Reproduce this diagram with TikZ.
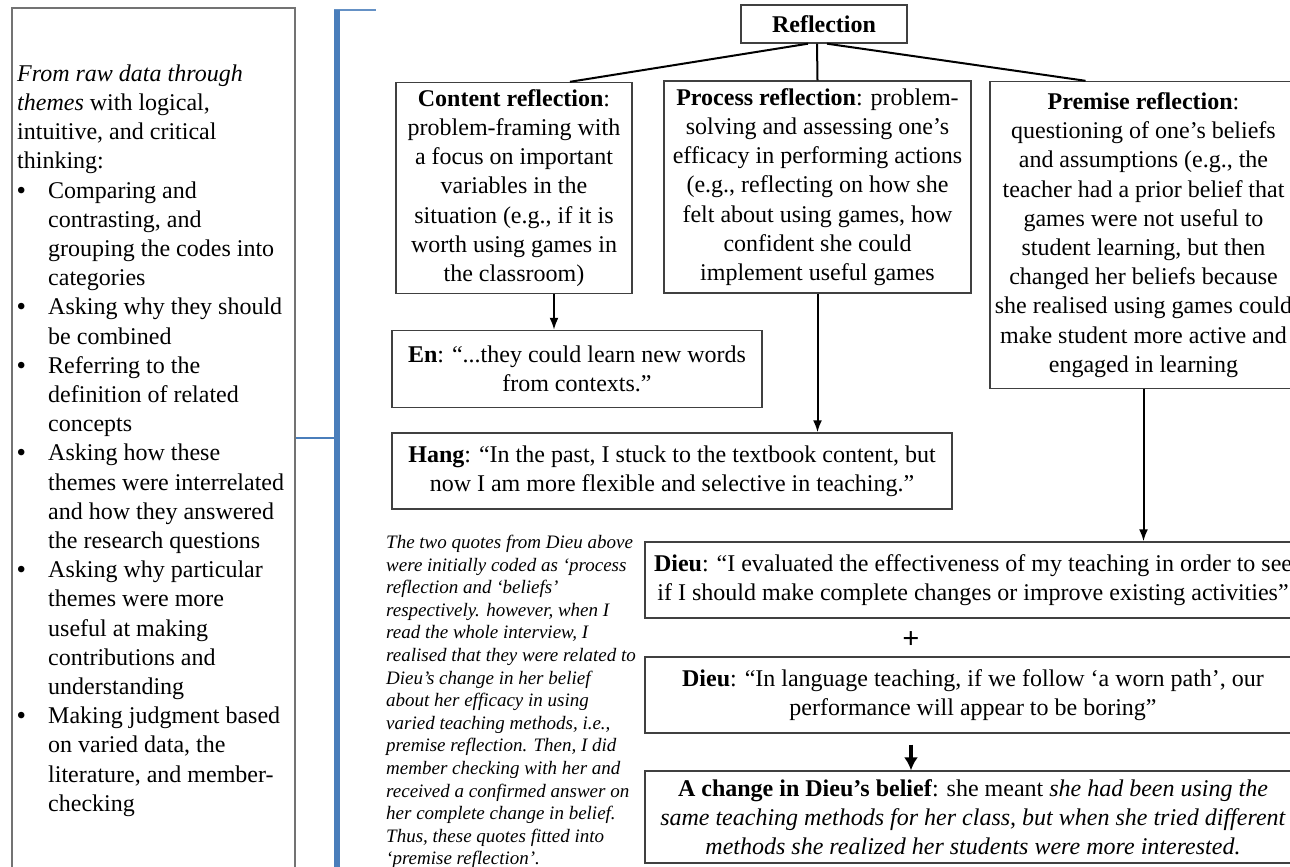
\documentclass[tikz,border=0pt]{standalone}
\usepackage{fontspec}
\setmainfont{Liberation Serif}
\usetikzlibrary{arrows.meta}
\definecolor{bracketblue}{RGB}{74,126,187}
\begin{document}
\begin{tikzpicture}[x=1pt,y=-1pt,
  box/.style={draw=black!75, line width=1.4pt, inner sep=0pt, align=center,
    font=\fontsize{24}{29.2}\selectfont},
  link/.style={draw=black, line width=2pt},
  arr/.style={link, -{Latex[length=12pt,width=9pt]}},
  bigarr/.style={draw=black, line width=3.2pt, -{Latex[length=13pt,width=14pt]}},
]
\useasboundingbox (0,0) rectangle (1290,867);
\clip (0,0) rectangle (1290,867);
\fill[white] (0,0) rectangle (1290,867);

% analysis procedure panel
\node[draw=black!55, line width=1.4pt, minimum width=283, minimum height=880, inner sep=0pt]
  (method) at (153.5,448) {};
\node[anchor=north west, inner sep=0pt, align=left, font=\fontsize{24}{29.2}\selectfont]
  (methodtext) at (17,64.5) {%
  \textit{From raw data through}\\
  \textit{themes} with logical,\\
  intuitive, and critical\\
  thinking:\\
  \makebox[31pt][l]{\hspace{0pt}\textbf{•}}Comparing and\\
  \hspace*{31pt}contrasting, and\\
  \hspace*{31pt}grouping the codes into\\
  \hspace*{31pt}categories\\
  \makebox[31pt][l]{\hspace{0pt}\textbf{•}}Asking why they should\\
  \hspace*{31pt}be combined\\
  \makebox[31pt][l]{\hspace{0pt}\textbf{•}}Referring to the\\
  \hspace*{31pt}definition of related\\
  \hspace*{31pt}concepts\\
  \makebox[31pt][l]{\hspace{0pt}\textbf{•}}Asking how these\\
  \hspace*{31pt}themes were interrelated\\
  \hspace*{31pt}and how they answered\\
  \hspace*{31pt}the research questions\\
  \makebox[31pt][l]{\hspace{0pt}\textbf{•}}Asking why particular\\
  \hspace*{31pt}themes were more\\
  \hspace*{31pt}useful at making\\
  \hspace*{31pt}contributions and\\
  \hspace*{31pt}understanding\\
  \makebox[31pt][l]{\hspace{0pt}\textbf{•}}Making judgment based\\
  \hspace*{31pt}on varied data, the\\
  \hspace*{31pt}literature, and member-\\
  \hspace*{31pt}checking};

% blue bracket joining the panel to the reflection chart
\coordinate (brktop) at (337,10);
\coordinate (brkmid) at (337,438);
\draw[bracketblue!85, line width=2.5pt] ([xshift=-3pt]brktop) -- (376,10);
\draw[bracketblue, line width=6pt] (brktop) -- (337,880);
\draw[bracketblue, line width=2pt] (brkmid -| method.east) -- (brkmid);

% reflection chart
\node[box, minimum width=166, minimum height=38] (refl) at (824,24) {\textbf{Reflection}};

\node[box, minimum width=236, minimum height=211] (content) at (514,188)
  {\textbf{Content reflection}:\\ problem-framing with\\ a focus on important\\
   variables in the\\ situation (e.g., if it is\\ worth using games in\\ the classroom)};

\node[box, minimum width=307, minimum height=212] (process) at (817.5,187)
  {\textbf{Process reflection}: problem-\\ solving and assessing one’s\\
   efficacy in performing actions\\ (e.g., reflecting on how she\\
   felt about using games, how\\ confident she could\\ implement useful games};

\node[box, minimum width=307, minimum height=307] (premise) at (1143.5,235)
  {\textbf{Premise reflection}:\\ questioning of one’s beliefs\\ and assumptions (e.g., the\\
   teacher had a prior belief that\\ games were not useful to\\ student learning, but then\\
   changed her beliefs because\\ she realised using games could\\
   make student more active and\\ engaged in learning};

\node[box, minimum width=370, minimum height=77] (en) at (577,369)
  {\textbf{En}: “...they could learn new words\\ from contexts.”};

\node[box, minimum width=560, minimum height=76] (hang) at (672,471)
  {\textbf{Hang}: “In the past, I stuck to the textbook content, but\\
   now I am more flexible and selective in teaching.”};

\node[box, minimum width=656, minimum height=76] (dieuA) at (973,580)
  {\textbf{Dieu}: “I evaluated the effectiveness of my teaching in order to see\\
   if I should make complete changes or improve existing activities”};

\node[font=\fontsize{30}{30}\selectfont\bfseries, inner sep=0pt] (plus) at (911,640) {+};

\node[box, minimum width=656, minimum height=76] (dieuB) at (973,695)
  {\textbf{Dieu}: “In language teaching, if we follow ‘a worn path’, our\\
   performance will appear to be boring”};

\node[box, minimum width=656, minimum height=92] (change) at (973,817)
  {\textbf{A change in Dieu’s belief}: she meant \textit{she had been using the}\\
   \textit{same teaching methods for her class, but when she tried different}\\
   \textit{methods she realized her students were more interested.}};

% researcher's note
\node[anchor=north west, inner sep=0pt, align=left,
  font=\fontsize{19}{22.6}\selectfont\itshape] (note) at (386,535)
  {The two quotes from Dieu above\\
   were initially coded as ‘process\\
   reflection and ‘beliefs’\\
   respectively. however, when I\\
   read the whole interview, I\\
   realised that they were related to\\
   Dieu’s change in her belief\\
   about her efficacy in using\\
   varied teaching methods, i.e.,\\
   premise reflection. Then, I did\\
   member checking with her and\\
   received a confirmed answer on\\
   her complete change in belief.\\
   Thus, these quotes fitted into\\
   ‘premise reflection’.};

% connectors
\draw[link] ([xshift=-7pt]refl.south) -- (process.north);
\draw[link] ([xshift=-16pt]refl.south) -- ([xshift=56pt]content.north);
\draw[link] ([xshift=3pt]refl.south) -- ([xshift=-58pt]premise.north);
\draw[arr] ([xshift=40pt]content.south) -- ([xshift=40pt]content.south |- en.north);
\draw[arr] (process.south) -- (process.south |- hang.north);
\draw[arr] (premise.south) -- (premise.south |- dieuA.north);
\draw[bigarr] ([yshift=-11pt]dieuB.south -| plus) -- (change.north -| plus);
\end{tikzpicture}
\end{document}
